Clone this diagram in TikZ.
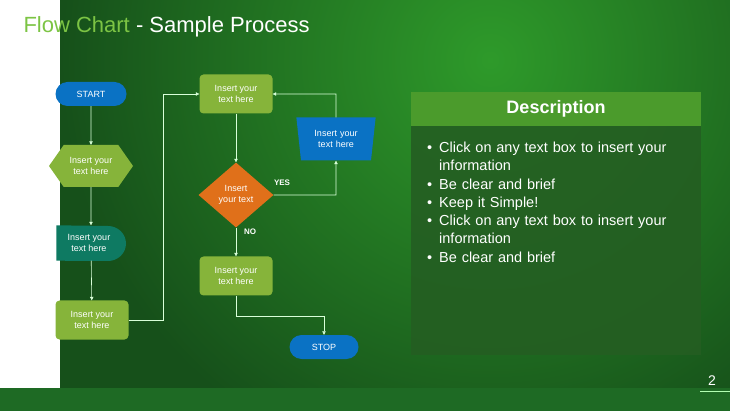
\documentclass[tikz,border=0pt]{standalone}
\usepackage{fontspec}
\setmainfont{Liberation Sans}
\usetikzlibrary{shapes.geometric,shapes.symbols,arrows.meta}
\definecolor{bg}{HTML}{16501A}
\definecolor{glow}{HTML}{2E9A2A}
\definecolor{lgreen}{HTML}{86B43A}
\definecolor{pblue}{HTML}{0A72C4}
\definecolor{teal}{HTML}{0E7A62}
\definecolor{orng}{HTML}{E0701A}
\definecolor{hdr}{HTML}{4B9B2C}
\definecolor{body}{HTML}{245E22}
\definecolor{ttl}{HTML}{7CC444}
\definecolor{band}{HTML}{1E6A24}
\begin{document}
\begin{tikzpicture}[x=1pt,y=-1pt,
  base/.style={text=white,font=\fontsize{9}{11}\selectfont,align=center,inner sep=0pt},
  pill/.style={base,fill=pblue,rounded corners=12pt,minimum width=71pt,minimum height=24pt},
  box/.style={base,fill=lgreen,rounded corners=4pt,minimum width=73pt,minimum height=39pt},
  conn/.style={draw=white!85!green,line width=0.6pt,-{Triangle[length=3.5pt,width=3.5pt]}},
  line/.style={draw=white!85!green,line width=0.6pt}]
\useasboundingbox (0,0) rectangle (730,411);
\begin{scope}
\clip (0,0) rectangle (730,411);
\shade[inner color=glow,outer color=bg] (60,-370) rectangle (920,490);
\end{scope}
\fill[band] (0,388) rectangle (730,411);
\draw[white!70!green,line width=0.5pt] (700,391) -- (730,391);
\node[anchor=west,font=\fontsize{22}{24}\selectfont] (title) at (20,27) {\textcolor{ttl}{Flow Chart}\textcolor{white}{~- Sample Process}};
\node[text=white,font=\fontsize{14}{16}\selectfont] (pg) at (712,381) {2};
% flow
\node[pill] (start) at (91,94) {START};
\node[base,fill=lgreen,signal,signal to=east and west,signal pointer angle=110,minimum width=84pt,minimum height=42pt] (hex) at (91,166) {Insert your\\text here};
\node[base,minimum width=69pt,minimum height=35pt] (dly) at (91,243) {};
\fill[teal] (dly.north west) -- (108,226) arc[start angle=90,end angle=-90,x radius=18pt,y radius=17.5pt] -- (dly.south west) -- cycle;
\node[base] at (89,243) {Insert your\\text here};
\node[box] (b1) at (92,320) {Insert your\\text here};
\node[box] (b2) at (236,94) {Insert your\\text here};
\node[base,fill=orng,diamond,minimum width=75pt,minimum height=65pt,aspect=1.15] (dia) at (236,195) {Insert\\your text};
\node[box] (b3) at (236,276) {Insert your\\text here};
\node[pill,minimum width=69pt] (stop) at (324,347) {STOP};
\node[base,fill=pblue,trapezium,shape border rotate=180,trapezium stretches body,trapezium angle=75,minimum width=60pt,minimum height=43pt,text width=70pt] (trap) at (336,139) {Insert your\\text here};
\draw[conn] (start) -- (hex);
\draw[conn] (hex) -- (dly);
\draw[conn] (dly) -- (b1);
\draw[conn] (b1.east) -- (163,320) -- (163,94) -- (b2.west);
\draw[conn] (b2) -- (dia);
\draw[conn] (dia) -- (b3);
\draw[conn] (dia.east) -- (336,195) -- (trap.south);
\draw[conn] (trap.north) -- (336,94) -- (b2.east);
\draw[conn] (b3.south) -- (236,316) -- (324,316) -- (stop.north);
\node[text=white,font=\bfseries\fontsize{8}{9}\selectfont] (yes) at (282,183) {YES};
\node[text=white,font=\bfseries\fontsize{8}{9}\selectfont] (no) at (250,232) {NO};
% description
\fill[body,opacity=0.9] (411,126) rectangle (701,355);
\node[fill=hdr,minimum width=290pt,minimum height=34pt,inner sep=0pt,text=white,font=\bfseries\fontsize{18}{20}\selectfont] (hd) at (556,109) {Description};
\node[anchor=north west,text=white,font=\fontsize{14.5}{18.3}\selectfont,text width=262pt,inner sep=0pt] (txt) at (424,134) {%
\begin{list}{\textbullet}{\leftmargin=15pt\labelwidth=8pt\labelsep=7pt\itemsep=0pt\parsep=0pt\topsep=0pt}
\item Click on any text box to insert your information
\item Be clear and brief
\item Keep it Simple!
\item Click on any text box to insert your information
\item Be clear and brief
\end{list}};
\end{tikzpicture}
\end{document}
